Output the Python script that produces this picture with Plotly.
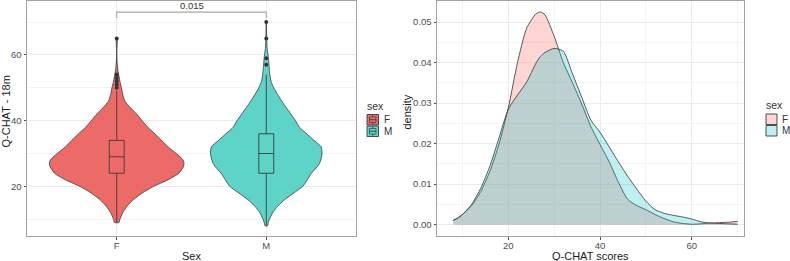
import plotly.graph_objects as go

# ---------------- data ----------------
categories = ["F", "M"]
sex_colors = {"F": "#EC6B68", "M": "#5ED4C9"}
density_fill = {"F": "rgba(248,118,109,0.30)", "M": "rgba(0,191,196,0.25)"}

# Kernel density of Q-CHAT scores by sex
score_grid = [8, 9, 10, 12, 14, 16, 18, 20, 22, 24, 26, 27, 28, 30, 32, 34, 36, 38, 40,
              42, 44, 46, 48, 50, 52, 54, 56, 58, 60, 62, 64, 65, 66, 68, 70]
dens_F = [0.0011, 0.0017, 0.0025, 0.0047, 0.0082, 0.0132, 0.0200, 0.0288, 0.0400, 0.0485,
          0.0520, 0.0525, 0.0518, 0.0465, 0.0400, 0.0350, 0.0298, 0.0242, 0.0198,
          0.0155, 0.0105, 0.0063, 0.0047, 0.0037, 0.0025, 0.0015, 0.0007, 0.0003, 0.0001,
          0.0002, 0.0004, 0.00045, 0.0005, 0.0006, 0.0008]
dens_M = [0.0010, 0.0016, 0.0025, 0.0050, 0.0090, 0.0145, 0.0215, 0.0285, 0.0320, 0.0352,
          0.0398, 0.0415, 0.0425, 0.0435, 0.0428, 0.0372, 0.0315, 0.0258, 0.0228,
          0.0192, 0.0155, 0.0120, 0.0088, 0.0058, 0.0037, 0.0028, 0.0023, 0.0019, 0.0014,
          0.0007, 0.0004, 0.00035, 0.0003, 0.0002, 0.0001]

# Box-plot statistics (Q-CHAT - 18m)
data_min = [9, 8]
data_max = [65, 70]
q1 = [24, 24]
median = [29, 30]
q3 = [34, 36]
lower_whisker = [9, 8]
upper_whisker = [49, 54]
outliers_F = [50, 51, 52, 53, 54, 65]
outliers_M = [57, 59, 65, 70]

# significance test
sig_pair = ["F", "M"]
sig_label = "0.015"
sig_y = 73.0
sig_tip = 71.2

# axis ticks
left_y_ticks = [20, 40, 60]
left_y_minor = [10, 30, 50, 70]
right_x_ticks = [20, 40, 60]
right_x_minor = [10, 30, 50, 70]
right_y_ticks = [0.00, 0.01, 0.02, 0.03, 0.04, 0.05]
right_y_minor = [0.005, 0.015, 0.025, 0.035, 0.045]

# ---------------- layout helpers ----------------
W, H = 790, 261
FONT = "Liberation Sans, Arial, Helvetica, sans-serif"
def fx(p): return p / W
def fy(p): return 1 - p / H

L_dom = [fx(27), fx(356)]
R_dom = [fx(437), fx(744)]
Y_dom = [fy(236), fy(1)]
border = "#a3a3a3"
grid_major = "#ebebeb"
grid_minor = "#f4f4f4"
outline = "#3a3a3a"
tick_font = dict(family=FONT, size=9.5, color="#4d4d4d")

fig = go.Figure()

# ---------------- left: violins ----------------
dmax = max(max(dens_F), max(dens_M))
dens = {"F": dens_F, "M": dens_M}
for i, cat in enumerate(categories):
    pos = i + 1
    ys = [s for s in score_grid if data_min[i] <= s <= data_max[i]]
    hw = [dens[cat][score_grid.index(s)] / dmax * 0.45 for s in ys]
    xs = [pos + h for h in hw] + [pos - h for h in reversed(hw)]
    yy = ys + list(reversed(ys))
    fig.add_trace(go.Scatter(
        x=xs + [xs[0]], y=yy + [yy[0]], mode="lines", fill="toself", name=cat,
        fillcolor=sex_colors[cat], line=dict(color=outline, width=0.8, shape="spline", smoothing=0.6),
        showlegend=False, hoverinfo="skip", xaxis="x", yaxis="y"))

# boxes (overlay axes so they are drawn above the violins)
for i, cat in enumerate(categories):
    fig.add_trace(go.Box(
        x=[i + 1], q1=[q1[i]], median=[median[i]], q3=[q3[i]],
        lowerfence=[lower_whisker[i]], upperfence=[upper_whisker[i]],
        orientation="v", width=0.1, whiskerwidth=0, boxpoints=False,
        fillcolor=sex_colors[cat], line=dict(color=outline, width=0.9),
        name=cat, showlegend=False, xaxis="x3", yaxis="y3"))

for i, outs in enumerate([outliers_F, outliers_M]):
    fig.add_trace(go.Scatter(
        x=[i + 1] * len(outs), y=outs, mode="markers",
        marker=dict(color="#333333", size=4), showlegend=False,
        xaxis="x3", yaxis="y3"))

# significance bracket
bx = [categories.index(sig_pair[0]) + 1] * 2 + [categories.index(sig_pair[1]) + 1] * 2
fig.add_trace(go.Scatter(
    x=bx, y=[sig_tip, sig_y, sig_y, sig_tip], mode="lines",
    line=dict(color="#a8a8a8", width=1.2), showlegend=False, hoverinfo="skip",
    xaxis="x3", yaxis="y3"))
fig.add_annotation(x=(bx[0] + bx[-1]) / 2, y=sig_y, xref="x3", yref="y3", text=sig_label,
                   showarrow=False, yanchor="bottom", yshift=0, borderpad=0,
                   font=dict(family=FONT, size=9.5, color="#333333"))

# ---------------- right: densities ----------------
for cat in categories:
    fig.add_trace(go.Scatter(
        x=score_grid, y=dens[cat], mode="lines", fill="tozeroy", name=cat,
        fillcolor=density_fill[cat], line=dict(color="#333333", width=0.8, shape="spline", smoothing=0.6),
        showlegend=False, xaxis="x2", yaxis="y2"))

# ---------------- axes ----------------
common = dict(showline=True, mirror=True, linecolor=border, linewidth=1, zeroline=False,
              ticks="outside", ticklen=2.5, tickcolor="#4d4d4d", tickwidth=1,
              tickfont=tick_font, gridcolor=grid_major, gridwidth=1, automargin=False,
              fixedrange=True)

fig.update_layout(
    width=W, height=H, margin=dict(l=0, r=0, t=0, b=0, autoexpand=False),
    paper_bgcolor="white", plot_bgcolor="white",
    font=dict(family=FONT, color="#333333"),
    boxmode="overlay", showlegend=False,
    xaxis=dict(domain=L_dom, range=[0.4, 2.6], tickmode="array", tickvals=[1, 2],
               ticktext=categories, anchor="y", ticklabelstandoff=-2, **common),
    yaxis=dict(domain=Y_dom, range=[4.9, 76.4], tickmode="array", tickvals=left_y_ticks,
               anchor="x", minor=dict(tickmode="array", tickvals=left_y_minor, showgrid=True,
                                      gridcolor=grid_minor, ticks=""), **common),
    xaxis3=dict(overlaying="x", range=[0.4, 2.6], visible=False, anchor="y3", fixedrange=True),
    yaxis3=dict(overlaying="y", range=[4.9, 76.4], visible=False, anchor="x3", fixedrange=True),
    xaxis2=dict(domain=R_dom, range=[4.45, 71.4], tickmode="array", tickvals=right_x_ticks,
                anchor="y2", ticklabelstandoff=-2,
                minor=dict(tickmode="array", tickvals=right_x_minor, showgrid=True,
                           gridcolor=grid_minor, ticks=""), **common),
    yaxis2=dict(domain=Y_dom, range=[-0.0028, 0.0552], tickmode="array", tickvals=right_y_ticks,
                tickformat=".2f", anchor="x2",
                minor=dict(tickmode="array", tickvals=right_y_minor, showgrid=True,
                           gridcolor=grid_minor, ticks=""), **common),
)

# ---------------- legends (keys drawn as paper shapes) ----------------
leg_title_font = dict(family=FONT, size=10.5, color="#333333")
leg_font = dict(family=FONT, size=10, color="#333333")

def legend_block(x0, title_y, key_tops, key_w, key_h, fills, boxglyph):
    fig.add_annotation(x=fx(x0 - 1), y=fy(title_y), xref="paper", yref="paper", text="sex",
                       showarrow=False, xanchor="left", yanchor="middle", borderpad=0,
                       font=leg_title_font)
    for cat, top in zip(categories, key_tops):
        x1, y1 = x0 + key_w, top + key_h
        fig.add_shape(type="rect", xref="paper", yref="paper",
                      x0=fx(x0), x1=fx(x1), y0=fy(y1), y1=fy(top),
                      fillcolor=fills[cat], line=dict(color=outline, width=0.9))
        if boxglyph:
            cx = x0 + key_w / 2
            fig.add_shape(type="line", xref="paper", yref="paper",
                          x0=fx(cx), x1=fx(cx), y0=fy(y1 - 0.5), y1=fy(top + 0.5),
                          line=dict(color=outline, width=0.7))
            fig.add_shape(type="rect", xref="paper", yref="paper",
                          x0=fx(x0 + 2.5), x1=fx(x1 - 2.5), y0=fy(y1 - 2.5), y1=fy(top + 2.5),
                          fillcolor=fills[cat], line=dict(color=outline, width=0.7))
            fig.add_shape(type="line", xref="paper", yref="paper",
                          x0=fx(x0 + 2.5), x1=fx(x1 - 2.5), y0=fy(top + key_h / 2), y1=fy(top + key_h / 2),
                          line=dict(color=outline, width=0.9))
        fig.add_annotation(x=fx(x1 + 4), y=fy(top + key_h / 2), xref="paper", yref="paper",
                           text=cat, showarrow=False, xanchor="left", yanchor="middle", borderpad=0,
                           font=leg_font)

legend_block(367, 106, [114.5, 126], 11.5, 10.5, sex_colors, True)
legend_block(766, 105, [114, 125.5], 11, 10.5, density_fill, False)

# ---------------- axis titles ----------------
title_font = dict(family=FONT, size=11, color="#1a1a1a")
fig.add_annotation(x=fx(191.5), y=fy(256), xref="paper", yref="paper", text="Sex", borderpad=0,
                   showarrow=False, font=title_font, xanchor="center", yanchor="middle")
fig.add_annotation(x=fx(590.5), y=fy(256), xref="paper", yref="paper", text="Q-CHAT scores", borderpad=0,
                   showarrow=False, font=title_font, xanchor="center", yanchor="middle")
fig.add_annotation(x=fx(5.5), y=fy(112), xref="paper", yref="paper", text="Q-CHAT - 18m", borderpad=0,
                   showarrow=False, font=title_font, textangle=-90, xanchor="center", yanchor="middle")
fig.add_annotation(x=fx(406.5), y=fy(112), xref="paper", yref="paper", text="density", borderpad=0,
                   showarrow=False, font=title_font, textangle=-90, xanchor="center", yanchor="middle")

fig.write_html("out.html", config={"displayModeBar": False})
